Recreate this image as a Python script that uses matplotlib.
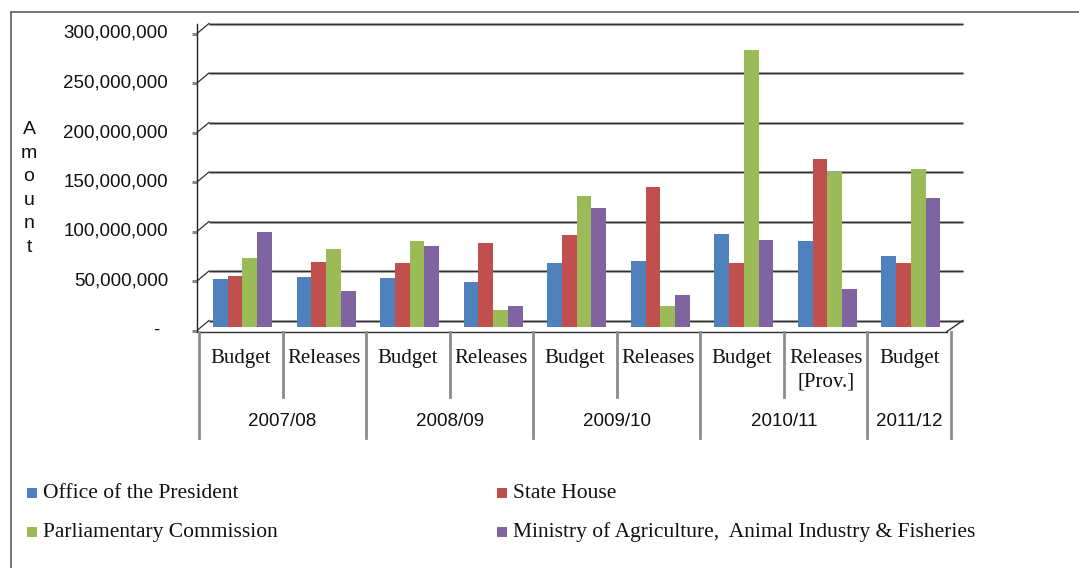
import numpy as np
import matplotlib
matplotlib.use("Agg")
import matplotlib.pyplot as plt
from matplotlib.patches import Rectangle

# data (values in millions)
categories = ['Budget', 'Releases', 'Budget', 'Releases', 'Budget', 'Releases',
              'Budget', 'Releases\n[Prov.]', 'Budget']
years = ['2007/08', '2008/09', '2009/10', '2010/11', '2011/12']
year_span = [2, 2, 2, 2, 1]
series_names = ['Office of the President', 'State House', 'Parliamentary Commission',
                'Ministry of Agriculture,  Animal Industry & Fisheries']
office = [48, 51, 49, 45, 64.5, 66.5, 93.5, 86.5, 71.5]
state_house = [52, 66, 65, 84.5, 92.5, 141, 64.5, 170, 64.5]
parliament = [69.5, 78.5, 86.5, 17, 132, 21, 280, 157, 160]
agriculture = [95.5, 36, 81.5, 21, 120, 32, 87.5, 38, 130]
yticks = [0, 50e6, 100e6, 150e6, 200e6, 250e6, 300e6]
ytick_labels = ['-', '50,000,000', '100,000,000', '150,000,000',
                '200,000,000', '250,000,000', '300,000,000']
colors = ['#4F81BD', '#C0504D', '#9BBB59', '#8064A2']

SANS = 'Liberation Sans'
SERIF = 'Liberation Serif'

W, H = 1079, 568
X0, X1 = 199, 951      # plot left / right (pixels)
Y0, YT = 327, 30       # pixel rows of 0 and 300M at bar depth
fig = plt.figure(figsize=(W / 100, H / 100), dpi=100)

deco = fig.add_axes([0, 0, 1, 1], zorder=0)
deco.set_xlim(0, W)
deco.set_ylim(H, 0)
deco.axis('off')

ax = fig.add_axes([X0 / W, 1 - Y0 / H, (X1 - X0) / W, (Y0 - YT) / H], zorder=1)
ax.patch.set_alpha(0)
ax.set_xlim(0, len(categories))
ax.set_ylim(0, 300e6)
ax.axis('off')

def py(v):
    return Y0 - (Y0 - YT) * v / 300e6

def px(c):
    return X0 + (X1 - X0) * c / len(categories)

# outer frame (top and left edge visible)
deco.plot([11, W], [12, 12], color='#6a6a6a', lw=1.3)
deco.plot([11, 11], [12, H], color='#6a6a6a', lw=1.3)

# back wall gridlines with 3D offset
for v, lab in zip(yticks, ytick_labels):
    fy = py(v) + 3.5
    by = py(v) - 6.5
    deco.plot([209, 963], [by, by], color='#b0b0b0', lw=2.2, solid_capstyle='butt')
    deco.plot([209, 963], [by, by], color='#303030', lw=0.9, solid_capstyle='butt')
    deco.plot([197, 209], [fy, by], color='#303030', lw=0.9)
    deco.plot([192, 197], [fy, fy], color='#8a8a8a', lw=2.2, solid_capstyle='butt')
    if lab == '-':
        deco.text(156, fy, lab, ha='center', va='center', fontsize=13.5, family=SANS, color='#111111')
    else:
        deco.text(168, fy, lab, ha='right', va='center', fontsize=13.5, family=SANS, color='#111111')

# vertical axis line and floor
deco.plot([197, 197], [24, py(0) + 4], color='#202020', lw=1.0)
deco.plot([197, 947], [py(0) + 4.5, py(0) + 4.5], color='#303030', lw=1.0)
deco.plot([947, 963], [py(0) + 4.5, py(0) - 6.5], color='#303030', lw=1.0)

# y label, stacked letters
for k, ch in enumerate('Amount'):
    deco.text(29, 130 + k * 23.4, ch, ha='center', va='center', fontsize=14, family=SANS, color='#111111')

# bars
bw = 0.1765
x = np.arange(len(categories))
for j, vals in enumerate([office, state_house, parliament, agriculture]):
    ax.bar(x + 0.1675 + j * bw, np.array(vals) * 1e6, width=bw, align='edge',
           color=colors[j], linewidth=0)

# category separators and labels
bounds = np.cumsum([0] + year_span)
for k in range(len(categories) + 1):
    xx = px(k) if k < len(categories) else X1
    bottom = 438 if k in bounds else 397
    deco.plot([xx, xx], [py(0) + 5, bottom], color='#8c8c8c', lw=2.0)
for i, lab in enumerate(categories):
    deco.text(px(i + 0.5), 349, lab, ha='center', va='top', fontsize=15, family=SERIF,
              color='#111111', linespacing=1.3)
for g, yr in enumerate(years):
    cx = px((bounds[g] + bounds[g + 1]) / 2)
    deco.text(cx, 421, yr, ha='center', va='center', fontsize=13.5, family=SANS, color='#111111')

# legend
leg_pos = [(27, 493), (497, 493), (27, 532), (497, 532)]
for (lx, ly), name, col in zip(leg_pos, series_names, colors):
    deco.add_patch(Rectangle((lx, ly - 5), 10, 10, color=col, lw=0))
    deco.text(lx + 16, ly, name, ha='left', va='center', fontsize=15.5, family=SERIF, color='#111111')

fig.savefig('out.png', dpi=100)
